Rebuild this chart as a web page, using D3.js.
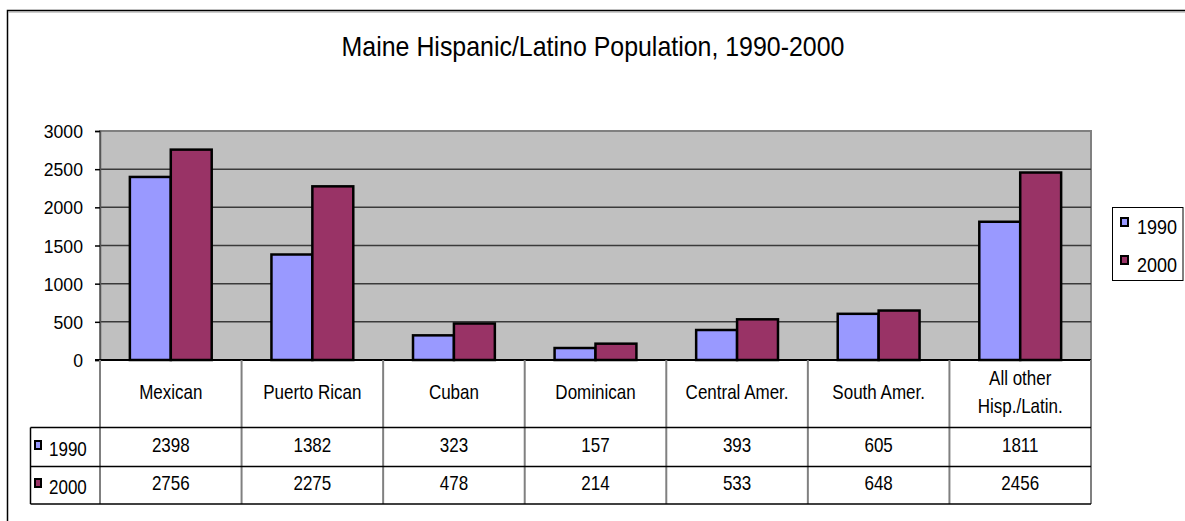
<!DOCTYPE html>
<html>
<head>
<meta charset="utf-8">
<script src="https://cdn.jsdelivr.net/npm/d3@7/dist/d3.min.js"></script>
<style>
  html, body { margin: 0; padding: 0; background: #fff; }
  svg { display: block; font-family: "Liberation Sans", Arial, sans-serif; }
</style>
</head>
<body>
<svg id="chart" width="1185" height="521"></svg>
<script>
// Data
const categories = ["Mexican", "Puerto Rican", "Cuban", "Dominican", "Central Amer.", "South Amer.", "All other\nHisp./Latin."];
const seriesNames = ["1990", "2000"];
const values1990 = [2398, 1382, 323, 157, 393, 605, 1811];
const values2000 = [2756, 2275, 478, 214, 533, 648, 2456];
const yTicks = [0, 500, 1000, 1500, 2000, 2500, 3000];
const colors = ["#9999ff", "#993366"];
const title = "Maine Hispanic/Latino Population, 1990-2000";

const series = [values1990, values2000];

const svg = d3.select("#chart");

// Narrow-set text: draws at (x, y) with a horizontal squeeze
function label(parent, x, y, str, size, sx, anchor) {
  return parent.append("text")
    .attr("transform", `translate(${x},${y}) scale(${sx},1)`)
    .attr("text-anchor", anchor || "start")
    .attr("font-size", size)
    .attr("fill", "#000")
    .text(str);
}

// Chart-area frame
svg.append("rect")
  .attr("x", 7.5).attr("y", 10.5)
  .attr("width", 1200).attr("height", 600)
  .attr("fill", "#fff").attr("stroke", "#000").attr("stroke-width", 1.5);
svg.append("line")
  .attr("x1", 8.5).attr("x2", 1185).attr("y1", 12).attr("y2", 12)
  .attr("stroke", "#999").attr("stroke-width", 1);

label(svg, 593, 56, title, 28, 0.89, "middle");

// Plot area
const plot = { left: 100, right: 1091, top: 131, bottom: 360 };

const x = d3.scaleBand()
  .domain(categories)
  .range([plot.left, plot.right]);

const inner = d3.scaleBand()
  .domain(seriesNames)
  .range([0, x.bandwidth()])
  .paddingOuter(0.73)
  .paddingInner(0);

const y = d3.scaleLinear()
  .domain([0, 3000])
  .range([plot.bottom, plot.top]);

svg.append("rect")
  .attr("x", plot.left).attr("y", plot.top)
  .attr("width", plot.right - plot.left).attr("height", plot.bottom - plot.top)
  .attr("fill", "#c0c0c0")
  .attr("stroke", "#808080").attr("stroke-width", 2);

// Gridlines
svg.append("g")
  .selectAll("line")
  .data(yTicks.filter(t => t > 0 && t < 3000))
  .join("line")
  .attr("x1", plot.left).attr("x2", plot.right)
  .attr("y1", d => y(d)).attr("y2", d => y(d))
  .attr("stroke", "#3a3a3a").attr("stroke-width", 1.5);

// Y axis
const yAxis = d3.axisLeft(y)
  .tickValues(yTicks)
  .tickSize(5)
  .tickFormat("");

const gy = svg.append("g")
  .attr("transform", `translate(${plot.left},0)`)
  .call(yAxis);
gy.select(".domain").attr("stroke", "#555").attr("stroke-width", 1.5);
gy.selectAll(".tick line").attr("stroke", "#000").attr("stroke-width", 1.5);
yTicks.forEach(t => label(svg, plot.left - 17, y(t) + 7, d3.format("d")(t), 18, 0.98, "end"));

// Bars
const groups = svg.append("g")
  .selectAll("g")
  .data(categories)
  .join("g")
  .attr("transform", d => `translate(${x(d)},0)`);

groups.selectAll("rect")
  .data((d, i) => series.map((s, k) => ({ key: seriesNames[k], value: s[i], k })))
  .join("rect")
  .attr("x", d => inner(d.key))
  .attr("width", inner.bandwidth())
  .attr("y", d => y(d.value))
  .attr("height", d => y(0) - y(d.value))
  .attr("fill", d => colors[d.k])
  .attr("stroke", "#000")
  .attr("stroke-width", 2.5);

// Baseline
svg.append("line")
  .attr("x1", plot.left - 5).attr("x2", plot.right)
  .attr("y1", plot.bottom).attr("y2", plot.bottom)
  .attr("stroke", "#000").attr("stroke-width", 2);

// Data table
const table = { headerBottom: 427.5, row1Bottom: 466.5, row2Bottom: 504, left: 30.5 };
const tg = svg.append("g");
const colEdges = categories.map(c => x(c)).concat([plot.right]);

// Column dividers
tg.selectAll("line.col")
  .data(colEdges)
  .join("line")
  .attr("class", "col")
  .attr("x1", d => d).attr("x2", d => d)
  .attr("y1", plot.bottom).attr("y2", table.row2Bottom)
  .attr("stroke", "#808080").attr("stroke-width", 2);

tg.append("line")
  .attr("x1", table.left).attr("x2", table.left)
  .attr("y1", table.headerBottom).attr("y2", table.row2Bottom)
  .attr("stroke", "#000").attr("stroke-width", 1.5);

[table.headerBottom, table.row1Bottom, table.row2Bottom].forEach(yy => {
  tg.append("line")
    .attr("x1", table.left).attr("x2", plot.right)
    .attr("y1", yy).attr("y2", yy)
    .attr("stroke", "#000").attr("stroke-width", 1.5);
});

// Header labels
categories.forEach(c => {
  const lines = c.split("\n");
  const cx = x(c) + x.bandwidth() / 2;
  const base = lines.length === 1 ? 399 : 385;
  lines.forEach((ln, j) => label(tg, cx, base + j * 28, ln, 20, 0.85, "middle"));
});

// Data rows
const rowBase = [452, 490];
series.forEach((s, k) => {
  tg.append("rect")
    .attr("x", 35).attr("y", rowBase[k] - 11)
    .attr("width", 6).attr("height", 8)
    .attr("fill", colors[k]).attr("stroke", "#000").attr("stroke-width", 2);
  label(tg, 49, rowBase[k] + 4, seriesNames[k], 20, 0.85, "start");
  s.forEach((v, i) => {
    label(tg, x(categories[i]) + x.bandwidth() / 2, rowBase[k], String(v), 20, 0.85, "middle");
  });
});

// Legend
const lg = svg.append("g");
lg.append("rect")
  .attr("x", 1112.5).attr("y", 207.5)
  .attr("width", 70.5).attr("height", 73)
  .attr("fill", "#fff").attr("stroke", "#000").attr("stroke-width", 1);
const legendBase = [234, 272];
seriesNames.forEach((n, k) => {
  lg.append("rect")
    .attr("x", 1121).attr("y", legendBase[k] - 16)
    .attr("width", 7).attr("height", 8)
    .attr("fill", colors[k]).attr("stroke", "#000").attr("stroke-width", 2);
  label(lg, 1137, legendBase[k], n, 20, 0.9, "start");
});
</script>
</body>
</html>
